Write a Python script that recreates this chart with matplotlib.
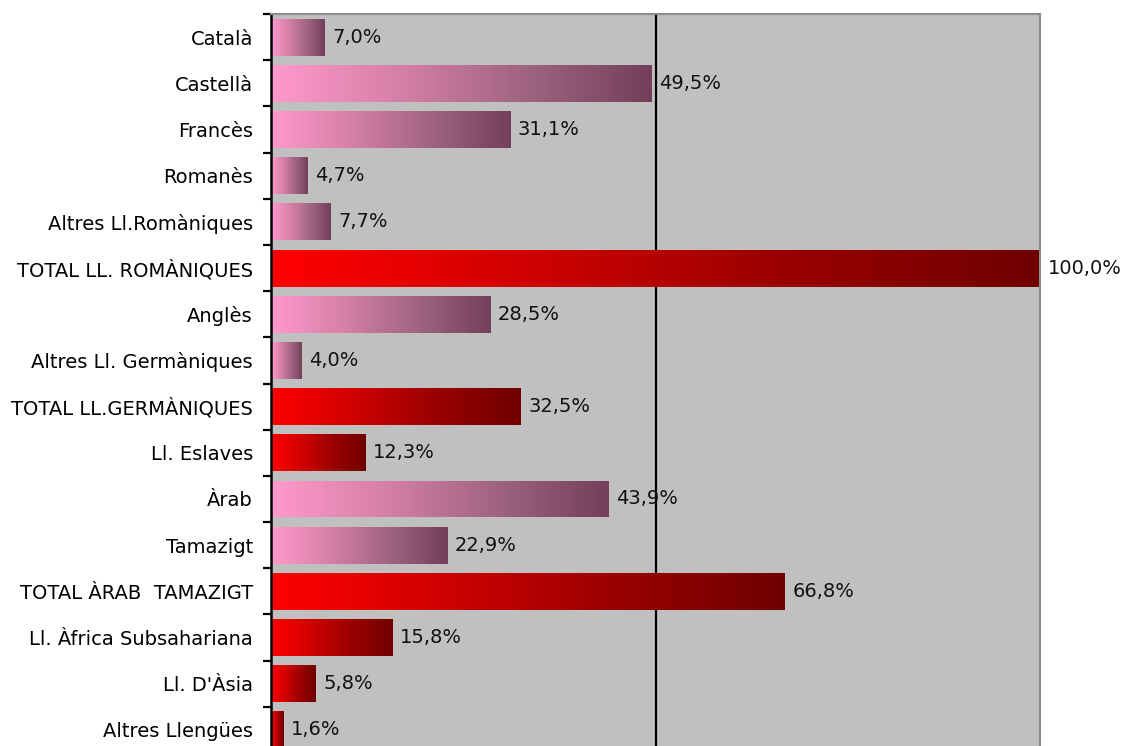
import numpy as np
import matplotlib.pyplot as plt
from matplotlib.colors import LinearSegmentedColormap

# languages, top to bottom
llengues = ['Català', 'Castellà', 'Francès', 'Romanès', 'Altres Ll.Romàniques',
            'TOTAL LL. ROMÀNIQUES', 'Anglès', 'Altres Ll. Germàniques',
            'TOTAL LL.GERMÀNIQUES', 'Ll. Eslaves', 'Àrab', 'Tamazigt',
            'TOTAL ÀRAB  TAMAZIGT', 'Ll. Àfrica Subsahariana', "Ll. D'Àsia",
            'Altres Llengües']
percent = [7.0, 49.5, 31.1, 4.7, 7.7, 100.0, 28.5, 4.0, 32.5, 12.3, 43.9, 22.9,
           66.8, 15.8, 5.8, 1.6]
# 'p' = single language (pink), 'r' = group total / region (red)
tipus = ['p', 'p', 'p', 'p', 'p', 'r', 'p', 'p', 'r', 'r', 'p', 'p',
         'r', 'r', 'r', 'r']

rosa = LinearSegmentedColormap.from_list('rosa', ['#ff99cc', '#d680a8', '#a06480', '#733f5a'])
vermell = LinearSegmentedColormap.from_list('vermell', ['#ff0000', '#d00000', '#9a0000', '#700000'])
grad = np.linspace(0, 1, 256).reshape(1, -1)

plt.rcParams['font.family'] = 'DejaVu Sans'
fs = 14
fig = plt.figure(figsize=(11.25, 7.46), dpi=100)
ax = fig.add_axes([0.2409, -0.0094, 0.6836, 0.9906])
ax.set_facecolor('#c0c0c0')

n = len(llengues)
y = np.arange(n)
bars = ax.barh(y, percent, height=0.8, color='none', edgecolor='none', zorder=2)
for b, v, t in zip(bars, percent, tipus):
    cmap = rosa if t == 'p' else vermell
    im = ax.imshow(grad, cmap=cmap, aspect='auto', zorder=2,
                   extent=[0, v, b.get_y() + b.get_height(), b.get_y()],
                   interpolation='bilinear')
    im.set_clip_path(b)
    ax.text(v + 1.0, b.get_y() + b.get_height() / 2,
            ('%.1f%%' % v).replace('.', ','),
            va='center', ha='left', fontsize=fs, color='#111111', zorder=3)

ax.axvline(50, color='black', lw=1.6, zorder=1)

ax.set_xlim(0, 100)
ax.set_ylim(n - 0.5, -0.5)
ax.set_xticks([])
ax.set_yticks(y)
ax.set_yticklabels(llengues, fontsize=fs)
ax.set_yticks(np.arange(n + 1) - 0.5, minor=True)
ax.tick_params(axis='y', which='major', length=0, pad=13)
ax.tick_params(axis='y', which='minor', length=6, width=1.6, direction='out')

ax.spines['left'].set_color('black')
ax.spines['left'].set_linewidth(1.8)
for s in ['top', 'right']:
    ax.spines[s].set_color('#8c8c8c')
    ax.spines[s].set_linewidth(1.5)
ax.spines['bottom'].set_visible(False)

fig.savefig('out.png', dpi=100)
